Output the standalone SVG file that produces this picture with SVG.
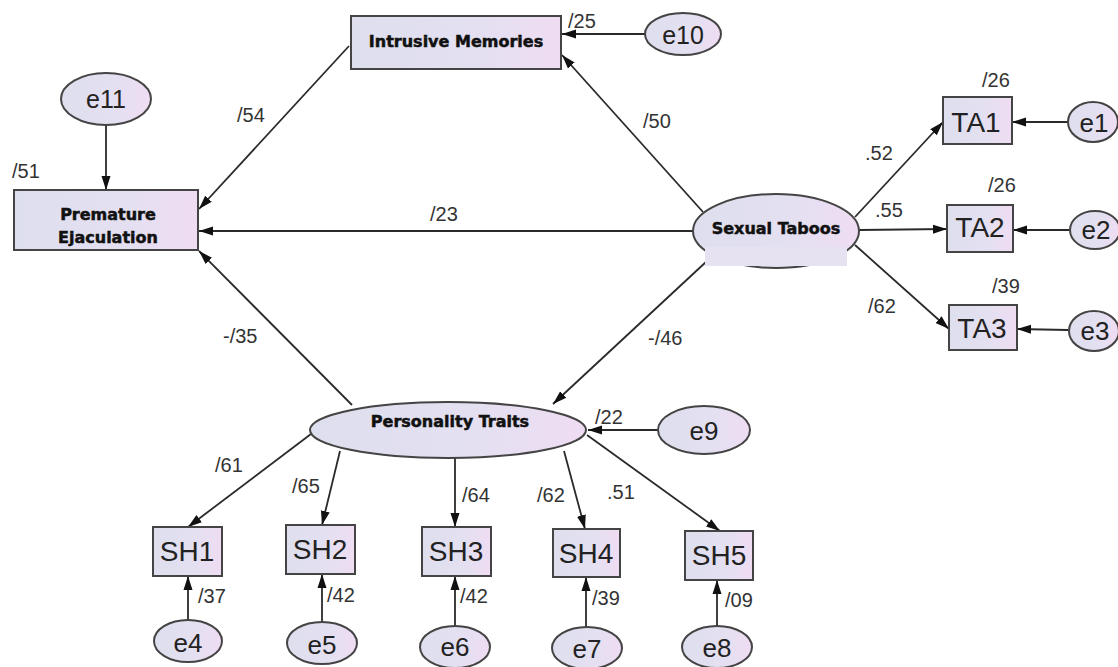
<svg xmlns="http://www.w3.org/2000/svg" width="1118" height="667" viewBox="0 0 1118 667">
<defs>
<linearGradient id="g" x1="0" y1="0" x2="1" y2="0">
<stop offset="0" stop-color="#dedfee"/>
<stop offset="0.6" stop-color="#e4e0f1"/>
<stop offset="1" stop-color="#efdcf3"/>
</linearGradient>
<marker id="ah" markerUnits="userSpaceOnUse" markerWidth="15" markerHeight="11" refX="14" refY="5.5" orient="auto">
<path d="M0,1 L14,5.5 L0,10 Z" fill="#111"/>
</marker>
<style>
.n{fill:url(#g);stroke:#444;stroke-width:2}
.c line{stroke:#2a2a2a;stroke-width:1.8;marker-end:url(#ah)}
.b{font-family:"DejaVu Sans",sans-serif;font-weight:bold;font-size:16px;fill:#111;text-anchor:middle;stroke:#111;stroke-width:0.5}
.t{font-family:"Liberation Sans",Arial,sans-serif;font-size:28px;fill:#222;text-anchor:middle}
.e{font-family:"Liberation Sans",Arial,sans-serif;font-size:26px;fill:#222;text-anchor:middle}
.l{font-family:"Liberation Sans",Arial,sans-serif;font-size:20px;fill:#333}
</style>
</defs>
<rect width="1118" height="667" fill="#fff"/>

<g class="c" id="connectors">
<line x1="106" y1="125" x2="106" y2="190"/>
<line x1="645" y1="34" x2="562" y2="34"/>
<line x1="349" y1="46" x2="199" y2="209"/>
<line x1="703" y1="212" x2="562" y2="55"/>
<line x1="693" y1="231" x2="199" y2="231"/>
<line x1="855" y1="217" x2="943" y2="122"/>
<line x1="859" y1="230" x2="947" y2="229"/>
<line x1="855" y1="245" x2="949" y2="329"/>
<line x1="1068" y1="122" x2="1012" y2="122"/>
<line x1="1070" y1="230" x2="1013" y2="230"/>
<line x1="1068" y1="330" x2="1017" y2="329"/>
<line x1="707" y1="261" x2="553" y2="404"/>
<line x1="352" y1="405" x2="199" y2="251"/>
<line x1="658" y1="430" x2="588" y2="430"/>
<line x1="311" y1="434" x2="188" y2="527"/>
<line x1="340" y1="451" x2="322" y2="525"/>
<line x1="455" y1="458" x2="455" y2="527"/>
<line x1="564" y1="451" x2="585" y2="529"/>
<line x1="587" y1="435" x2="720" y2="531"/>
<line x1="188" y1="620" x2="188" y2="576"/>
<line x1="322" y1="622" x2="322" y2="574"/>
<line x1="455" y1="626" x2="455" y2="576"/>
<line x1="586" y1="627" x2="586" y2="577"/>
<line x1="717" y1="626" x2="717" y2="580"/>
</g>

<g id="PE"><rect class="n" x="14" y="190" width="184" height="60"/><text class="b" x="108" y="220">Premature</text><text class="b" x="108" y="243">Ejaculation</text></g>
<g id="IM"><rect class="n" x="351" y="16" width="210" height="53"/><text class="b" x="456" y="47">Intrusive Memories</text></g>
<g id="ST"><ellipse class="n" cx="776" cy="231" rx="83" ry="37"/><rect x="705" y="247" width="142" height="19" fill="#e6e2f2"/><text class="b" x="776" y="234">Sexual Taboos</text></g>
<g id="PT"><ellipse class="n" cx="448" cy="430" rx="138" ry="28"/><text class="b" x="450" y="427">Personality Traits</text></g>

<g id="e11"><ellipse class="n" cx="106" cy="99" rx="45" ry="26"/><text class="e" x="106" y="108" style="font-size:25px">e11</text></g>
<g id="e10"><ellipse class="n" cx="683" cy="34" rx="38" ry="21"/><text class="e" x="683" y="44" style="font-size:25px">e10</text></g>
<g id="e9"><ellipse class="n" cx="704" cy="430" rx="46" ry="24"/><text class="e" x="704" y="440">e9</text></g>

<g id="TA1"><rect class="n" x="943" y="97" width="69" height="47"/><text class="t" x="976" y="132">TA1</text></g>
<g id="TA2"><rect class="n" x="947" y="205" width="66" height="47"/><text class="t" x="980" y="237">TA2</text></g>
<g id="TA3"><rect class="n" x="949" y="305" width="68" height="45"/><text class="t" x="982" y="338">TA3</text></g>
<g id="e1"><ellipse class="n" cx="1093" cy="122" rx="25" ry="20"/><text class="e" x="1094" y="132">e1</text></g>
<g id="e2"><ellipse class="n" cx="1095" cy="230" rx="25" ry="19"/><text class="e" x="1096" y="239">e2</text></g>
<g id="e3"><ellipse class="n" cx="1094" cy="331" rx="25" ry="20"/><text class="e" x="1095" y="340">e3</text></g>

<g id="SH1"><rect class="n" x="153" y="527" width="69" height="49"/><text class="t" x="187" y="561">SH1</text></g>
<g id="SH2"><rect class="n" x="286" y="525" width="69" height="49"/><text class="t" x="320" y="559">SH2</text></g>
<g id="SH3"><rect class="n" x="422" y="527" width="69" height="49"/><text class="t" x="456" y="561">SH3</text></g>
<g id="SH4"><rect class="n" x="553" y="529" width="67" height="48"/><text class="t" x="586" y="563">SH4</text></g>
<g id="SH5"><rect class="n" x="685" y="531" width="68" height="49"/><text class="t" x="719" y="565">SH5</text></g>
<g id="e4"><ellipse class="n" cx="188" cy="641" rx="34" ry="21"/><text class="e" x="188" y="652">e4</text></g>
<g id="e5"><ellipse class="n" cx="322" cy="643" rx="35" ry="21"/><text class="e" x="322" y="654">e5</text></g>
<g id="e6"><ellipse class="n" cx="455" cy="647" rx="35" ry="21"/><text class="e" x="455" y="656">e6</text></g>
<g id="e7"><ellipse class="n" cx="587" cy="648" rx="35" ry="21"/><text class="e" x="587" y="658">e7</text></g>
<g id="e8"><ellipse class="n" cx="717" cy="647" rx="35" ry="21"/><text class="e" x="717" y="657">e8</text></g>

<g id="labels">
<text class="l" x="12" y="178">/51</text>
<text class="l" x="237" y="122">/54</text>
<text class="l" x="568" y="28">/25</text>
<text class="l" x="643" y="128">/50</text>
<text class="l" x="430" y="221">/23</text>
<text class="l" x="982" y="87">/26</text>
<text class="l" x="865" y="160">.52</text>
<text class="l" x="988" y="192">/26</text>
<text class="l" x="875" y="217">.55</text>
<text class="l" x="992" y="293">/39</text>
<text class="l" x="868" y="313">/62</text>
<text class="l" x="648" y="345">-/46</text>
<text class="l" x="223" y="343">-/35</text>
<text class="l" x="595" y="424">/22</text>
<text class="l" x="215" y="472">/61</text>
<text class="l" x="292" y="493">/65</text>
<text class="l" x="462" y="502">/64</text>
<text class="l" x="537" y="502">/62</text>
<text class="l" x="607" y="499">.51</text>
<text class="l" x="198" y="603">/37</text>
<text class="l" x="327" y="602">/42</text>
<text class="l" x="460" y="603">/42</text>
<text class="l" x="592" y="605">/39</text>
<text class="l" x="725" y="607">/09</text>
</g>
</svg>
